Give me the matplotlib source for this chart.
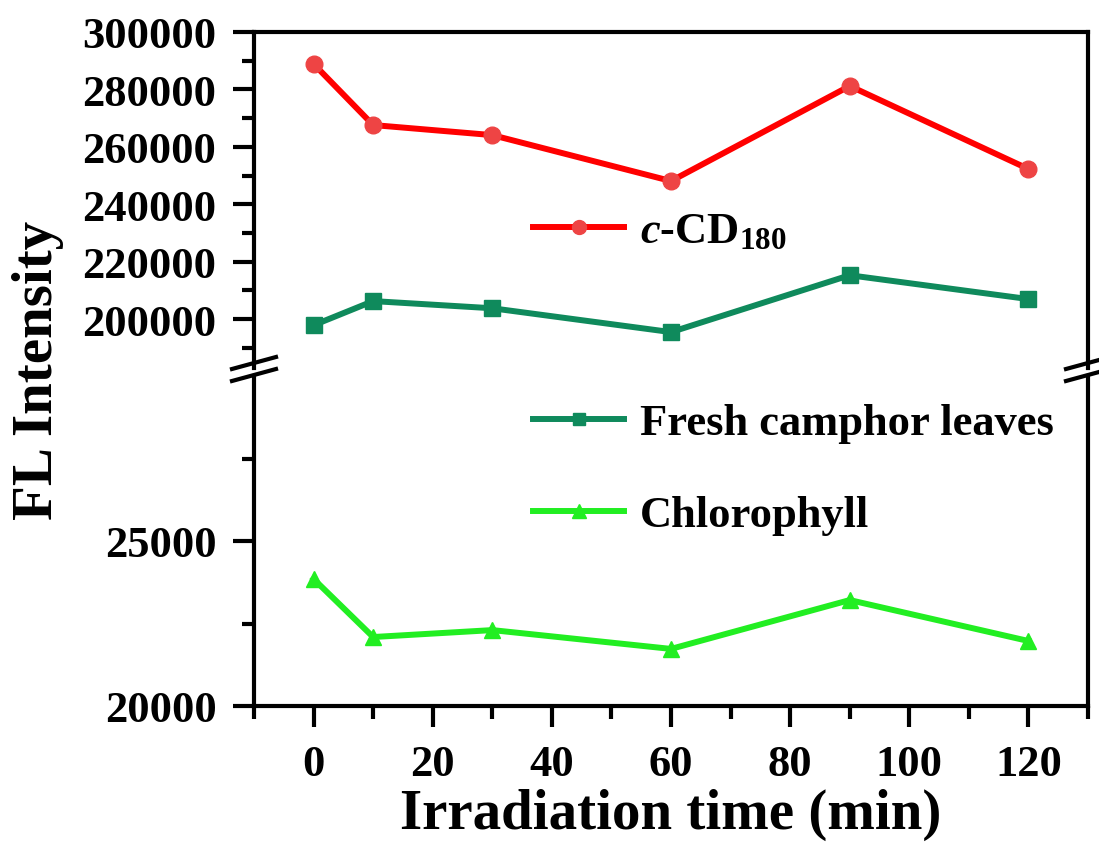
import matplotlib.pyplot as plt
from matplotlib.lines import Line2D
from matplotlib.ticker import MultipleLocator, FixedLocator

plt.rcParams['font.family'] = ['Liberation Serif', 'DejaVu Serif']
plt.rcParams['font.weight'] = 'bold'
plt.rcParams['mathtext.fontset'] = 'custom'
plt.rcParams['mathtext.rm'] = 'Liberation Serif:bold'
plt.rcParams['mathtext.it'] = 'Liberation Serif:italic:bold'
plt.rcParams['mathtext.bf'] = 'Liberation Serif:bold'

# data
time_min = [0, 10, 30, 60, 90, 120]
ccd180 = [288900, 267600, 264100, 248100, 281200, 252300]
camphor = [197900, 206300, 203800, 195500, 215300, 207000]
chlorophyll = [23850, 22090, 22300, 21730, 23210, 21970]

upper_ticks = [200000, 220000, 240000, 260000, 280000, 300000]
lower_ticks = [20000, 25000]

c_red, c_red_mk = '#FF0000', '#EE4444'
c_dark, c_light = '#0F8A5C', '#22EE22'

W, H = 1099, 854
fig = plt.figure(figsize=(W / 100, H / 100), dpi=100)

def fx(px):
    return px / W

def fy(py):
    return 1 - py / H

left, right = fx(254), fx(1088)
ax_top = fig.add_axes([left, fy(369), right - left, fy(33) - fy(369)])
ax_bot = fig.add_axes([left, fy(707), right - left, fy(377) - fy(707)])

lw = 4.3
ax_top.plot(time_min, ccd180, color=c_red, lw=lw, marker='o', ms=12,
            mfc=c_red_mk, mec=c_red_mk)
ax_top.plot(time_min, camphor, color=c_dark, lw=lw, marker='s', ms=11,
            mfc=c_dark, mec=c_dark)
ax_bot.plot(time_min, chlorophyll, color=c_light, lw=lw, marker='^', ms=12,
            mfc=c_light, mec=c_light)

for ax in (ax_top, ax_bot):
    ax.set_xlim(-10, 130)
    for s in ax.spines.values():
        s.set_linewidth(3)
    ax.tick_params(axis='both', which='major', direction='out', length=15,
                   width=3, labelsize=32, right=False, top=False)
    ax.tick_params(axis='both', which='minor', direction='out', length=9,
                   width=3, right=False, top=False)

ax_top.set_ylim(183000, 300000)
ax_top.yaxis.set_major_locator(FixedLocator(upper_ticks))
ax_top.yaxis.set_minor_locator(MultipleLocator(10000))
ax_top.spines['bottom'].set_visible(False)
ax_top.tick_params(axis='x', which='both', bottom=False, labelbottom=False)
ax_top.tick_params(axis='y', which='major', pad=12)

ax_bot.set_ylim(20000, 30000)
ax_bot.yaxis.set_major_locator(FixedLocator(lower_ticks))
ax_bot.yaxis.set_minor_locator(FixedLocator([22500, 27500]))
ax_bot.spines['top'].set_visible(False)
ax_bot.xaxis.set_major_locator(MultipleLocator(20))
ax_bot.xaxis.set_minor_locator(FixedLocator(list(range(-10, 131, 20))))
ax_bot.tick_params(axis='y', which='major', pad=12)
ax_bot.tick_params(axis='x', which='major', pad=12)

for lab in ax_top.get_yticklabels() + ax_bot.get_yticklabels() + ax_bot.get_xticklabels():
    lab.set_fontweight('bold')

# axis break marks on both spines
for xs in (254, 1088):
    for yc in (364, 376):
        fig.add_artist(Line2D([fx(xs - 22), fx(xs + 22)], [fy(yc + 6), fy(yc - 6)],
                              color='black', lw=3, transform=fig.transFigure))

fig.text(fx(38), fy(370), 'FL Intensity', rotation=90, ha='center', va='center',
         fontsize=41, fontweight='bold')
fig.text(fx(671), fy(815), 'Irradiation time (min)', ha='center', va='center',
         fontsize=41, fontweight='bold')

entries = [
    (Line2D([], [], color=c_red, lw=lw, marker='o', ms=10, mfc=c_red_mk, mec=c_red_mk),
     r'$\mathit{c}$-CD$_{180}$', 232),
    (Line2D([], [], color=c_dark, lw=lw, marker='s', ms=9, mfc=c_dark, mec=c_dark),
     'Fresh camphor leaves', 424),
    (Line2D([], [], color=c_light, lw=lw, marker='^', ms=10, mfc=c_light, mec=c_light),
     'Chlorophyll', 516),
]
for handle, label, ypx in entries:
    fig.legend(handles=[handle], labels=[label], loc='center left',
               bbox_to_anchor=(fx(533), fy(ypx)), bbox_transform=fig.transFigure,
               frameon=False, borderpad=0, borderaxespad=0, handlelength=2.05,
               handletextpad=0.35, prop={'size': 32, 'weight': 'bold'})

fig.savefig('out.png', dpi=100)
